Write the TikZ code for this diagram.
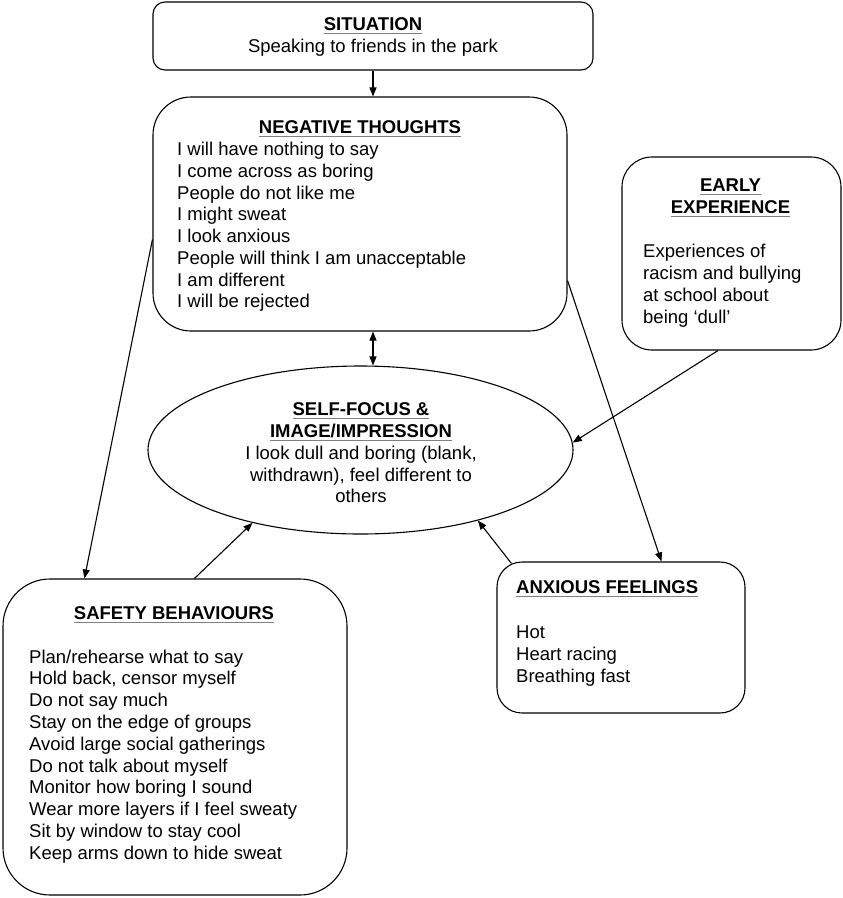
\documentclass[tikz,border=0pt]{standalone}
\usepackage{fontspec}
\setmainfont{Liberation Sans}
\usetikzlibrary{arrows.meta,shapes.geometric,calc}
\newsavebox\hdbox
\newcommand\hdul[1]{\sbox\hdbox{#1}\rlap{\raisebox{-3.8pt}{\color{black!50}\rule{\wd\hdbox}{1.1pt}}}\usebox\hdbox}
\begin{document}
\begin{tikzpicture}[x=1pt,y=-1pt,
  box/.style={draw, line width=1.1pt, inner sep=0pt},
  txt/.style={inner sep=0pt, anchor=base west, font=\fontsize{18.5}{22}\selectfont},
  ctxt/.style={inner sep=0pt, anchor=base, font=\fontsize{18.5}{22}\selectfont},
  hd/.style={inner sep=0pt, anchor=base, font=\fontsize{18.5}{22}\selectfont\bfseries},
  arr/.style={line width=1.1pt, -{Triangle[length=9pt,width=7pt]}},
  darr/.style={line width=1.1pt, {Triangle[length=9pt,width=7pt]}-{Triangle[length=9pt,width=7pt]}}]
\useasboundingbox (0,0) rectangle (843,898);

% boxes
\node[box, rounded corners=12pt, minimum width=440pt, minimum height=68pt] (sit) at (373,36) {};
\node[box, rounded corners=38pt, minimum width=414pt, minimum height=234pt] (neg) at (360,214) {};
\node[box, rounded corners=30pt, minimum width=219pt, minimum height=193pt] (early) at (731.5,253.5) {};
\node[box, ellipse, minimum width=425pt, minimum height=168pt] (ell) at (360.5,450) {};
\node[box, rounded corners=25pt, minimum width=248pt, minimum height=151pt] (anx) at (621,637.5) {};
\node[box, rounded corners=47pt, minimum width=344pt, minimum height=316pt] (saf) at (175,737) {};

% situation
\node[hd] (sith) at (373,30) {\hdul{SITUATION}};
\node[ctxt] (sitt) at (373,52) {Speaking to friends in the park};

% negative thoughts
\node[hd] (negh) at (360,133) {\hdul{NEGATIVE THOUGHTS}};
\foreach \t [count=\i from 0] in {I will have nothing to say, I come across as boring, People do not like me, I might sweat, I look anxious, People will think I am unacceptable, I am different, I will be rejected}
  \node[txt] (nt\i) at (177,{155.7+21.75*\i}) {\t};

% early experience
\node[hd] (earh1) at (730.5,191) {\hdul{EARLY}};
\node[hd] (earh2) at (730.5,213) {\hdul{EXPERIENCE}};
\foreach \t [count=\i from 0] in {Experiences of, racism and bullying, at school about, being ‘dull’}
  \node[txt] (et\i) at (643,{257+22*\i}) {\t};

% self-focus
\node[hd] (ellh1) at (361,415) {\hdul{SELF-FOCUS \&}};
\node[hd] (ellh2) at (361,437) {\hdul{IMAGE/IMPRESSION}};
\foreach \t/\y [count=\i from 0] in {{I look dull and boring (blank,}/459, {withdrawn), feel different to}/481, others/502}
  \node[ctxt] (ellt\i) at (361,\y) {\t};

% anxious feelings
\node[hd, anchor=base west] (anxh) at (516,593) {\hdul{ANXIOUS FEELINGS}};
\foreach \t [count=\i from 0] in {Hot, Heart racing, Breathing fast}
  \node[txt] (at\i) at (516,{638+22*\i}) {\t};

% safety behaviours
\node[hd] (safh) at (174,619) {\hdul{SAFETY BEHAVIOURS}};
\foreach \t [count=\i from 0] in {Plan/rehearse what to say, {Hold back, censor myself}, Do not say much, Stay on the edge of groups, Avoid large social gatherings, Do not talk about myself, Monitor how boring I sound, Wear more layers if I feel sweaty, Sit by window to stay cool, Keep arms down to hide sweat}
  \node[txt] (st\i) at (29,{663+21.8*\i}) {\t};

% connectors
\draw[arr] (sit.south) -- (sit.south |- neg.north);
\draw[darr] (neg.south -| sit.south) -- (ell.north -| sit.south);
\draw[arr] (neg.187) -- ($(saf.north west)+(82,0)$);
\draw[arr] ($(neg.south east)+(0,-51)$) -- ($(anx.north west)+(165,0)$);
\draw[arr] ($(early.south)+(-13.5,0)$) -- (ell.2);
\draw[arr] ($(anx.north west)+(15,2)$) -- (ell.329);
\draw[arr] ($(saf.north west)+(192,0)$) -- (ell.214);
\end{tikzpicture}
\end{document}
